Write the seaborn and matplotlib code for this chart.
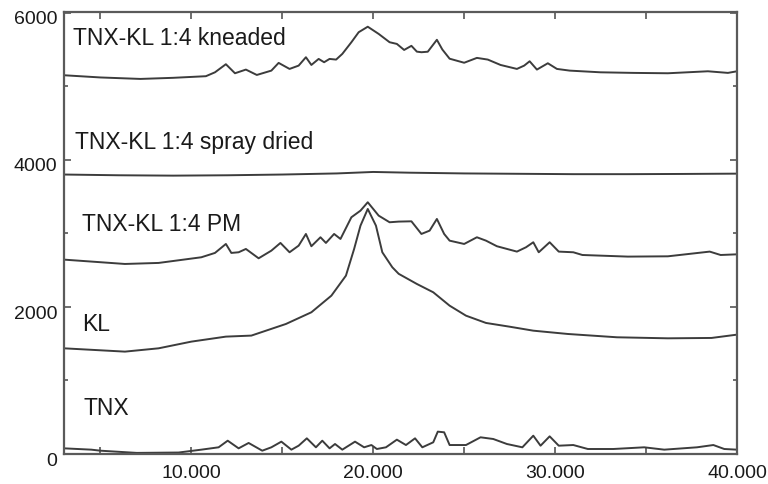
import matplotlib
matplotlib.use("Agg")
import matplotlib.pyplot as plt
import matplotlib.transforms as mtransforms
from matplotlib.ticker import MultipleLocator, FuncFormatter
import seaborn as sns
import pandas as pd

# ---- data (2-theta vs intensity) ----
kneaded_x = [3.0, 5.0, 7.2, 9.0, 10.8, 11.3, 11.9, 12.4, 13.0, 13.6, 14.4, 14.8, 15.4, 15.9,
             16.3, 16.6, 17.0, 17.3, 17.6, 17.96, 18.3, 18.8, 19.2, 19.7, 20.3, 20.9, 21.3,
             21.7, 22.1, 22.4, 22.65, 23.0, 23.5, 23.8, 24.2, 25.0, 25.7, 26.3, 27.0, 27.9,
             28.3, 28.6, 29.0, 29.6, 30.1, 30.8, 32.5, 34.3, 36.2, 38.4, 39.5, 40.0]
kneaded_y = [5150, 5120, 5100, 5115, 5137, 5190, 5300, 5177, 5227, 5154, 5213, 5318, 5236, 5281,
             5395, 5290, 5372, 5327, 5372, 5363, 5440, 5599, 5735, 5810, 5712, 5599, 5576,
             5494, 5550, 5471, 5463, 5470, 5632, 5500, 5375, 5320, 5386, 5363, 5290, 5236,
             5281, 5340, 5227, 5313, 5236, 5213, 5190, 5182, 5177, 5204, 5182, 5204]

spray_x = [3.0, 6.0, 9.0, 12.0, 15.0, 18.0, 20.0, 22.0, 25.0, 28.0, 31.0, 34.0, 37.0, 40.0]
spray_y = [3800, 3790, 3785, 3790, 3800, 3815, 3835, 3825, 3815, 3810, 3805, 3805, 3808, 3812]

pm_x = [3.0, 6.35, 8.2, 10.55, 11.3, 11.9, 12.2, 12.6, 13.0, 13.7, 14.4, 14.9, 15.4, 15.9,
        16.3, 16.6, 17.1, 17.4, 17.85, 18.2, 18.8, 19.3, 19.7, 20.3, 20.9, 21.4, 22.1, 22.65,
        23.1, 23.5, 23.9, 24.2, 25.0, 25.7, 26.2, 26.8, 27.9, 28.4, 28.8, 29.1, 29.7, 30.2,
        31.0, 31.5, 34.0, 36.2, 38.5, 39.1, 40.0]
pm_y = [2643, 2584, 2598, 2675, 2734, 2856, 2734, 2743, 2788, 2661, 2765, 2870, 2743, 2833,
        2992, 2825, 2947, 2870, 2992, 2924, 3219, 3309, 3423, 3241, 3151, 3160, 3164, 2992,
        3037, 3196, 2992, 2901, 2856, 2947, 2901, 2825, 2752, 2811, 2879, 2743, 2879, 2752,
        2743, 2706, 2684, 2688, 2752, 2706, 2715]

kl_x = [3.0, 6.35, 8.2, 10.0, 11.9, 13.3, 15.2, 16.6, 17.7, 18.5, 18.95, 19.3, 19.7, 20.15,
        20.5, 21.05, 21.4, 22.4, 23.3, 24.2, 25.1, 26.2, 27.5, 28.8, 30.7, 33.4, 36.2, 38.6, 40.0]
kl_y = [1437, 1392, 1437, 1528, 1596, 1610, 1768, 1927, 2153, 2425, 2788, 3105, 3332, 3105,
        2743, 2539, 2450, 2312, 2199, 2017, 1881, 1782, 1731, 1677, 1632, 1587, 1573, 1578, 1623]

tnx_x = [3.0, 4.5, 5.0, 7.0, 9.3, 10.55, 11.5, 12.0, 12.6, 13.15, 13.9, 14.4, 14.95, 15.5,
         15.9, 16.35, 16.85, 17.2, 17.6, 17.9, 18.3, 19.0, 19.5, 19.9, 20.2, 20.7, 21.3, 21.8,
         22.3, 22.7, 23.3, 23.55, 23.9, 24.2, 25.1, 25.9, 26.6, 27.35, 28.2, 28.8, 29.2, 29.7,
         30.2, 31.0, 31.8, 33.2, 34.9, 36.0, 37.8, 38.7, 39.3, 40.0]
tnx_y = [77, 59, 45, 15, 20, 59, 91, 181, 77, 150, 45, 91, 168, 59,
         113, 213, 91, 181, 77, 136, 59, 168, 91, 122, 68, 91, 195, 122,
         213, 91, 159, 304, 295, 122, 122, 227, 204, 136, 91, 249, 113, 240,
         113, 122, 68, 68, 91, 59, 91, 122, 68, 59]

series_labels = ["TNX-KL 1:4 kneaded", "TNX-KL 1:4 spray dried", "TNX-KL 1:4 PM", "KL", "TNX"]
label_x = [3.5, 3.6, 4.0, 4.0, 4.05]
label_y = [5670, 4243, 3128, 1768, 639]

# ---- build long-form table ----
frames = []
for name, xs, ys in zip(series_labels,
                        [kneaded_x, spray_x, pm_x, kl_x, tnx_x],
                        [kneaded_y, spray_y, pm_y, kl_y, tnx_y]):
    frames.append(pd.DataFrame({"two_theta": xs, "intensity": ys, "sample": name}))
df = pd.concat(frames, ignore_index=True)

sns.set_style("ticks")
plt.rcParams["font.family"] = ["Liberation Sans", "DejaVu Sans"]

fig = plt.figure(figsize=(7.68, 4.85), dpi=100)
ax = fig.add_axes([64 / 768, 1 - 455 / 485, (737 - 64) / 768, (455 - 13) / 485])

line_color = "#3c3c3c"
sns.lineplot(data=df, x="two_theta", y="intensity", units="sample", estimator=None,
             sort=False, color=line_color, linewidth=1.4, ax=ax, legend=False)

for txt, lx, ly in zip(series_labels, label_x, label_y):
    ax.text(lx, ly, txt, fontsize=16.5, color="#1a1a1a", va="center", ha="left")

ax.set_xlim(3, 40)
ax.set_ylim(0, 6010)
ax.set_xlabel("")
ax.set_ylabel("")

ax.xaxis.set_major_locator(MultipleLocator(5))
ax.xaxis.set_major_formatter(FuncFormatter(lambda v, p: f"{v:.3f}" if abs(v % 10) < 1e-6 else ""))
ax.yaxis.set_major_locator(MultipleLocator(2000))
ax.yaxis.set_minor_locator(MultipleLocator(1000))
ax.yaxis.set_major_formatter(FuncFormatter(lambda v, p: f"{int(v)}"))

ax.tick_params(axis="both", which="both", direction="in", top=True, right=True,
               colors="#555555", labelcolor="#1a1a1a", labelsize=14, width=1.2)
ax.tick_params(axis="both", which="major", length=5)
ax.tick_params(axis="both", which="minor", length=3)
ax.tick_params(axis="x", pad=7)
ax.tick_params(axis="y", pad=5)

offset = mtransforms.ScaledTranslation(0, -3 / 72, fig.dpi_scale_trans)
for lab in ax.get_yticklabels():
    lab.set_transform(lab.get_transform() + offset)

for sp in ax.spines.values():
    sp.set_color("#5a5a5a")
    sp.set_linewidth(1.6)

fig.savefig("out.png", dpi=100)
